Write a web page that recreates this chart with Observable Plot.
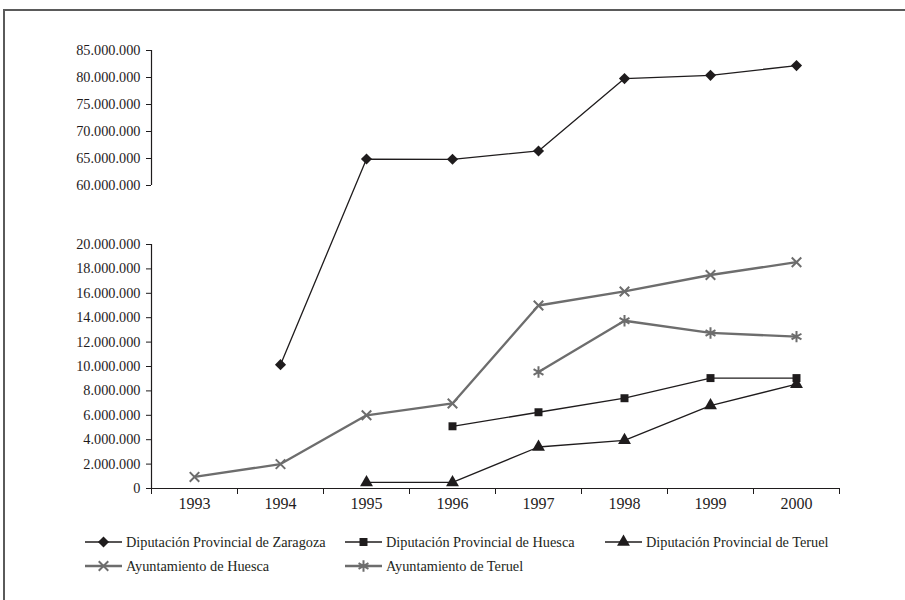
<!DOCTYPE html>
<html>
<head>
<meta charset="utf-8">
<script src="https://cdn.jsdelivr.net/npm/d3@7"></script>
<script src="https://cdn.jsdelivr.net/npm/@observablehq/plot@0.6"></script>
<style>
  html, body { margin: 0; padding: 0; background: #fff; }
  #wrap { position: relative; width: 905px; height: 600px; overflow: hidden; font-family: "Liberation Serif", "DejaVu Serif", serif; color: #231f20; }
  #frame { position: absolute; left: 3px; top: 9px; width: 1000px; height: 700px; border-top: 2px solid #5a5a5a; border-left: 2px solid #5a5a5a; }
  #chart { position: absolute; left: 0; top: 0; }
  .leg { position: absolute; display: flex; align-items: center; font-size: 14.3px; white-space: nowrap; }
  .leg svg { margin-right: 4px; }
</style>
</head>
<body>
<div id="wrap">
  <div id="frame"></div>
  <div id="chart"></div>
</div>
<script>
// ---- data ----
const years = [1993, 1994, 1995, 1996, 1997, 1998, 1999, 2000];
const seriesNames = [
  "Diputación Provincial de Zaragoza",
  "Diputación Provincial de Huesca",
  "Diputación Provincial de Teruel",
  "Ayuntamiento de Huesca",
  "Ayuntamiento de Teruel"
];
const dipZaragoza = [null, 10150000, 64900000, 64850000, 66400000, 79800000, 80400000, 82200000];
const dipHuesca   = [null, null, null, 5100000, 6250000, 7400000, 9050000, 9050000];
const dipTeruel   = [null, null, 500000, 500000, 3400000, 3950000, 6800000, 8550000];
const aytoHuesca  = [950000, 2000000, 6000000, 6970000, 15000000, 16150000, 17500000, 18550000];
const aytoTeruel  = [null, null, null, null, 9550000, 13750000, 12750000, 12450000];
const yTicksLow  = [0, 2000000, 4000000, 6000000, 8000000, 10000000, 12000000, 14000000, 16000000, 18000000, 20000000];
const yTicksHigh = [60000000, 65000000, 70000000, 75000000, 80000000, 85000000];

// ---- styles per series ----
const BLACK = "#1f1c1d", GRAY = "#6d6d6d";
const styles = [
  {stroke: BLACK, sw: 1.3, symbol: "diamond2", r: 5.0, fill: BLACK, mstroke: "none", msw: 0, d3sym: d3.symbolDiamond2},
  {stroke: BLACK, sw: 1.3, symbol: "square", r: 4.5, fill: BLACK, mstroke: "none", msw: 0, d3sym: d3.symbolSquare},
  {stroke: BLACK, sw: 1.3, symbol: "triangle", r: 4.8, fill: BLACK, mstroke: "none", msw: 0, d3sym: d3.symbolTriangle},
  {stroke: GRAY, sw: 2.3, symbol: "times", r: 4.4, fill: "none", mstroke: GRAY, msw: 2, d3sym: d3.symbolTimes},
  {stroke: GRAY, sw: 2.3, symbol: "asterisk", r: 5.4, fill: "none", mstroke: GRAY, msw: 2, d3sym: d3.symbolAsterisk}
];
const valuesBySeries = [dipZaragoza, dipHuesca, dipTeruel, aytoHuesca, aytoTeruel];

const fmt = v => String(v).replace(/\B(?=(\d{3})+(?!\d))/g, ".");
const xMin = years[0] - 0.5, xMax = years[years.length - 1] + 0.5;
const boundaries = years.map(y => y - 0.5).concat([xMax]);

const marks = [];
// axis lines (broken y axis)
marks.push(Plot.ruleX([xMin], {y1: yTicksLow[0], y2: yTicksLow[yTicksLow.length - 1], stroke: BLACK, strokeWidth: 1.2}));
marks.push(Plot.ruleX([xMin], {y1: yTicksHigh[0], y2: yTicksHigh[yTicksHigh.length - 1], stroke: BLACK, strokeWidth: 1.2}));
marks.push(Plot.ruleY([0], {x1: xMin, x2: xMax, stroke: BLACK, strokeWidth: 1.2}));
marks.push(Plot.axisY(yTicksLow.concat(yTicksHigh), {label: null, tickSize: 5, tickPadding: 6, tickFormat: fmt, fontSize: 14.3, stroke: BLACK, fill: BLACK}));
marks.push(Plot.axisX(boundaries, {label: null, tickSize: 6, tickFormat: () => "", stroke: BLACK}));
marks.push(Plot.axisX(years, {label: null, tickSize: 0, tickPadding: 9, tickFormat: d => String(d), fontSize: 16, fill: BLACK}));

valuesBySeries.forEach((vals, i) => {
  const s = styles[i];
  const rows = years.map((y, j) => ({year: y, value: vals[j]})).filter(d => d.value != null);
  marks.push(Plot.line(rows, {x: "year", y: "value", stroke: s.stroke, strokeWidth: s.sw}));
  marks.push(Plot.dot(rows, {x: "year", y: "value", symbol: () => s.symbol, r: s.r, fill: s.fill, stroke: s.mstroke, strokeWidth: s.msw}));
});

const chart = Plot.plot({
  width: 905,
  height: 600,
  marginLeft: 151,
  marginRight: 66,
  marginTop: 50,
  marginBottom: 112,
  style: {fontFamily: "'Liberation Serif', serif", color: BLACK, background: "transparent"},
  x: {type: "linear", domain: [xMin, xMax], axis: null, label: null},
  y: {type: "linear", domain: [0, 20000000, 60000000, 85000000], range: [488, 244, 185, 50], axis: null, label: null},
  symbol: {type: "identity"},
  marks
});
document.getElementById("chart").appendChild(chart);

// ---- legend ----
const legPos = [[85, 542], [345, 542], [605, 542], [85, 566], [345, 566]];
seriesNames.forEach((name, i) => {
  const s = styles[i];
  const div = document.createElement("div");
  div.className = "leg";
  div.style.left = legPos[i][0] + "px";
  div.style.top = (legPos[i][1] - 10) + "px";
  div.style.height = "20px";
  const size = Math.PI * s.r * s.r;
  const path = d3.symbol(s.d3sym, size)();
  div.innerHTML = `<svg width="37" height="20"><line x1="0" x2="37" y1="10" y2="10" stroke="${s.stroke}" stroke-width="${s.sw}"/>` +
    `<path transform="translate(18.5,10)" d="${path}" fill="${s.fill}" stroke="${s.mstroke}" stroke-width="${s.msw}"/></svg><span>${name}</span>`;
  document.getElementById("wrap").appendChild(div);
});
</script>
</body>
</html>
